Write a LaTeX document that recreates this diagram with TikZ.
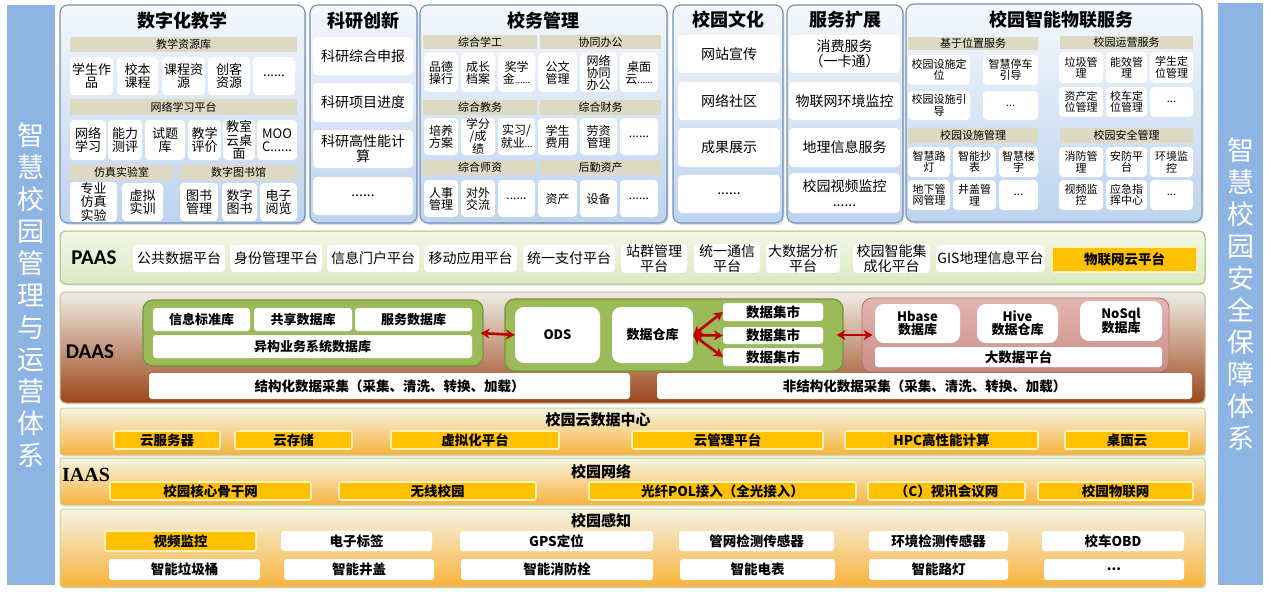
\documentclass[tikz,border=0pt]{standalone}
\usepackage{fontspec}
\setmainfont{Noto Sans CJK SC}
\newfontfamily\calfont{Carlito}
\newfontfamily\timesfont{Liberation Serif}
\usetikzlibrary{shadows,arrows.meta}
\definecolor{sideC}{HTML}{8EB4E3}
\definecolor{panT}{HTML}{F4F8FD}
\definecolor{panB}{HTML}{BDD3EE}
\definecolor{panD}{HTML}{7390B8}
\definecolor{bandC}{HTML}{DDD9C3}
\definecolor{paasT}{HTML}{F2F7E8}
\definecolor{paasB}{HTML}{DCE9C2}
\definecolor{paasD}{HTML}{A5C26A}
\definecolor{daasT}{HTML}{EFEDE5}
\definecolor{daasM}{HTML}{D9C5B4}
\definecolor{daasB}{HTML}{9C4519}
\definecolor{daasD}{HTML}{C4BD97}
\definecolor{grnC}{HTML}{9BBB59}
\definecolor{grnD}{HTML}{76923C}
\definecolor{redT}{HTML}{E4B6B1}
\definecolor{redB}{HTML}{C98C86}
\definecolor{redD}{HTML}{B9706A}
\definecolor{iaT}{HTML}{F5F4E4}
\definecolor{iaB}{HTML}{F8B23A}
\definecolor{iaD}{HTML}{C3D69B}
\definecolor{orgC}{HTML}{FFC000}
\definecolor{orgD}{HTML}{FFF1B8}
\definecolor{arrC}{HTML}{C00000}
\newcommand\bx[7]{%
  \pgfmathsetmacro\bxcx{(#2+#4)/2}%
  \pgfmathsetmacro\bxcy{(#3+#5)/2}%
  \pgfmathsetmacro\bxw{#4-#2}%
  \pgfmathsetmacro\bxh{#5-#3}%
  \node[#6, minimum width=\bxw pt, minimum height=\bxh pt] (#1) at (\bxcx,\bxcy) {#7};}
\newcommand\sdots{{\fontsize{9}{9}\selectfont......}}
\begin{document}
\begin{tikzpicture}[x=1pt,y=-1pt,
  sideS/.style={fill=sideC, inner sep=0pt, align=center, text=white, font=\fontsize{27}{32}\selectfont},
  panelS/.style={rounded corners=8pt, draw=panD, line width=1.1pt, top color=panT, bottom color=panB, inner sep=0pt,
    drop shadow={opacity=0.25, shadow xshift=1.5pt, shadow yshift=-2pt}},
  ptitle/.style={font=\bfseries\fontsize{18}{20}\selectfont, inner sep=0pt},
  bandS/.style={fill=bandC, inner sep=0pt, font=\fontsize{11}{12}\selectfont},
  wbase/.style={fill=white, rounded corners=4pt, inner sep=0.5pt, align=center, text=black},
  wb11/.style={wbase, font=\fontsize{11}{11.5}\selectfont},
  wb12/.style={wbase, font=\fontsize{12}{12}\selectfont},
  wb13/.style={wbase, font=\fontsize{13}{13.5}\selectfont},
  wb14/.style={wbase, font=\fontsize{14}{15}\selectfont},
  wbB13/.style={wbase, rounded corners=3pt, font=\bfseries\fontsize{13}{13}\selectfont},
  wbB13r/.style={wbase, rounded corners=9pt, font=\bfseries\fontsize{13}{13}\selectfont},
  wbB14/.style={wbase, rounded corners=3pt, font=\bfseries\fontsize{13.5}{14}\selectfont},
  oboxS/.style={fill=orgC, draw=orgD, line width=1.6pt, rounded corners=2pt, inner sep=0.5pt, font=\bfseries\fontsize{13.5}{14}\selectfont},
  paasS/.style={rounded corners=6pt, draw=paasD, line width=1pt, top color=paasT, bottom color=paasB,
    drop shadow={opacity=0.2, shadow xshift=1pt, shadow yshift=-1.5pt}},
  daasS/.style={rounded corners=6pt, draw=daasD, line width=1pt, top color=daasT, middle color=daasM, bottom color=daasB,
    drop shadow={opacity=0.2, shadow xshift=1pt, shadow yshift=-1.5pt}},
  greenS/.style={rounded corners=10pt, fill=grnC, draw=grnD, line width=1.2pt},
  redS/.style={rounded corners=10pt, top color=redT, bottom color=redB, draw=redD, line width=0.8pt},
  iaasS/.style={rounded corners=3pt, draw=iaD, line width=1pt, top color=iaT, bottom color=iaB,
    drop shadow={opacity=0.2, shadow xshift=1pt, shadow yshift=-1.5pt}},
  ititle/.style={font=\bfseries\fontsize{15}{16}\selectfont, inner sep=0pt},
  labS/.style={font=\calfont\bfseries\fontsize{21}{22}\selectfont, inner sep=0pt},
  rarrow/.style={{Stealth[length=9pt,width=10pt]}-{Stealth[length=9pt,width=10pt]}, line width=2.6pt, draw=arrC},
]
\useasboundingbox (0,0) rectangle (1270,592);
\fill[white] (0,0) rectangle (1270,592);

% side bars
\bx{lbar}{7}{5}{55}{585}{sideS}{智\\慧\\校\\园\\管\\理\\与\\运\\营\\体\\系}
\bx{rbar}{1218}{3}{1263}{585}{sideS}{智\\慧\\校\\园\\安\\全\\保\\障\\体\\系}

% ===== top panels =====
\bx{p1}{60}{5}{305}{223}{panelS}{}
\bx{p2}{310}{5}{417}{223}{panelS}{}
\bx{p3}{420}{5}{667}{223}{panelS}{}
\bx{p4}{673}{5}{783}{223}{panelS}{}
\bx{p5}{787}{5}{903}{223}{panelS}{}
\bx{p6}{906}{4}{1202}{222}{panelS}{}
\node[ptitle] (p1t) at (182,21) {数字化教学};
\node[ptitle] (p2t) at (363,21) {科研创新};
\node[ptitle] (p3t) at (543,21) {校务管理};
\node[ptitle] (p4t) at (728,20) {校园文化};
\node[ptitle] (p5t) at (845,20) {服务扩展};
\node[ptitle] (p6t) at (1061,20) {校园智能物联服务};

% panel 1
\bx{a1}{70}{37}{297}{52}{bandS}{教学资源库}
\bx{a2}{70}{57}{113}{95}{wb13}{学生作\\品}
\bx{a3}{117}{57}{158}{95}{wb13}{校本\\课程}
\bx{a4}{162}{57}{205}{95}{wb13}{课程资\\源}
\bx{a5}{208}{57}{250}{95}{wb13}{创客\\资源}
\bx{a6}{253}{57}{295}{95}{wb13}{......}
\bx{a7}{70}{99}{297}{115}{bandS}{网络学习平台}
\bx{a8}{70}{120}{106}{160}{wb13}{网络\\学习}
\bx{a9}{108}{120}{142}{160}{wb13}{能力\\测评}
\bx{a10}{145}{120}{185}{160}{wb13}{试题\\库}
\bx{a11}{188}{120}{221}{160}{wb13}{教学\\评价}
\bx{a12}{223}{120}{255}{160}{wb13}{教室\\云桌\\面}
\bx{a13}{257}{120}{297}{160}{wb13}{MOO\\C......}
\bx{a14}{70}{165}{173}{180}{bandS}{仿真实验室}
\bx{a15}{180}{165}{297}{180}{bandS}{数字图书馆}
\bx{a16}{70}{183}{117}{221}{wb13}{专业\\仿真\\实验}
\bx{a17}{122}{183}{163}{221}{wb13}{虚拟\\实训}
\bx{a18}{180}{183}{218}{221}{wb13}{图书\\管理}
\bx{a19}{222}{183}{257}{221}{wb13}{数字\\图书}
\bx{a20}{260}{183}{297}{221}{wb13}{电子\\阅览}

% panel 2
\bx{b1}{313}{37}{413}{75}{wb14}{科研综合申报}
\bx{b2}{313}{83}{413}{122}{wb14}{科研项目进度}
\bx{b3}{313}{130}{413}{168}{wb14}{科研高性能计\\算}
\bx{b4}{313}{177}{413}{215}{wb14}{......}

% panel 3
\bx{c1}{423}{35}{537}{49}{bandS}{综合学工}
\bx{c2}{540}{35}{661}{49}{bandS}{协同办公}
\bx{c3}{424}{53}{458}{92}{wb12}{品德\\操行}
\bx{c4}{461}{53}{495}{92}{wb12}{成长\\档案}
\bx{c5}{498}{53}{535}{92}{wb12}{奖学\\金\sdots}
\bx{c6}{538}{53}{577}{92}{wb12}{公文\\管理}
\bx{c7}{580}{53}{617}{92}{wb12}{网络\\协同\\办公}
\bx{c8}{620}{53}{658}{92}{wb12}{桌面\\云\sdots}
\bx{c9}{423}{100}{537}{115}{bandS}{综合教务}
\bx{c10}{540}{100}{661}{115}{bandS}{综合财务}
\bx{c11}{424}{118}{458}{155}{wb12}{培养\\方案}
\bx{c12}{461}{118}{495}{155}{wb12}{学分\\/成\\绩}
\bx{c13}{498}{118}{535}{155}{wb12}{实习/\\就业{\fontsize{9}{9}\selectfont...}}
\bx{c14}{538}{118}{577}{155}{wb12}{学生\\费用}
\bx{c15}{580}{118}{617}{155}{wb12}{劳资\\管理}
\bx{c16}{620}{118}{658}{155}{wb12}{......}
\bx{c17}{423}{160}{537}{175}{bandS}{综合师资}
\bx{c18}{540}{160}{661}{175}{bandS}{后勤资产}
\bx{c19}{424}{180}{458}{217}{wb12}{人事\\管理}
\bx{c20}{461}{180}{495}{217}{wb12}{对外\\交流}
\bx{c21}{498}{180}{535}{217}{wb12}{......}
\bx{c22}{538}{180}{577}{217}{wb12}{资产}
\bx{c23}{580}{180}{617}{217}{wb12}{设备}
\bx{c24}{620}{180}{658}{217}{wb12}{......}

% panel 4
\bx{d1}{678}{35}{780}{73}{wb14}{网站宣传}
\bx{d2}{678}{82}{780}{120}{wb14}{网络社区}
\bx{d3}{678}{128}{780}{167}{wb14}{成果展示}
\bx{d4}{678}{175}{780}{213}{wb14}{......}

% panel 5
\bx{e1}{789}{35}{900}{73}{wb14}{消费服务\\（一卡通）}
\bx{e2}{789}{82}{900}{120}{wb14}{物联网环境监控}
\bx{e3}{789}{128}{900}{167}{wb14}{地理信息服务}
\bx{e4}{789}{173}{900}{213}{wb14}{校园视频监控\\......}

% panel 6
\bx{f1}{908}{37}{1038}{50}{bandS}{基于位置服务}
\bx{f2}{1060}{36}{1193}{49}{bandS}{校园运营服务}
\bx{f3}{908}{55}{970}{85}{wb11}{校园设施定\\位}
\bx{f4}{983}{55}{1038}{85}{wb11}{智慧停车\\引导}
\bx{f5}{908}{91}{970}{120}{wb11}{校园设施引\\导}
\bx{f6}{983}{91}{1038}{120}{wb11}{...}
\bx{f7}{1059}{52}{1103}{83}{wb11}{垃圾管\\理}
\bx{f8}{1106}{52}{1147}{83}{wb11}{能效管\\理}
\bx{f9}{1150}{52}{1193}{83}{wb11}{学生定\\位管理}
\bx{f10}{1059}{87}{1103}{117}{wb11}{资产定\\位管理}
\bx{f11}{1106}{87}{1147}{117}{wb11}{校车定\\位管理}
\bx{f12}{1150}{87}{1193}{117}{wb11}{...}
\bx{f13}{908}{128}{1038}{143}{bandS}{校园设施管理}
\bx{f14}{1060}{128}{1193}{143}{bandS}{校园安全管理}
\bx{f15}{908}{147}{950}{177}{wb11}{智慧路\\灯}
\bx{f16}{953}{147}{996}{177}{wb11}{智能抄\\表}
\bx{f17}{999}{147}{1038}{177}{wb11}{智慧楼\\宇}
\bx{f18}{908}{180}{950}{210}{wb11}{地下管\\网管理}
\bx{f19}{953}{180}{996}{210}{wb11}{井盖管\\理}
\bx{f20}{999}{180}{1038}{210}{wb11}{...}
\bx{f21}{1059}{147}{1103}{177}{wb11}{消防管\\理}
\bx{f22}{1106}{147}{1147}{177}{wb11}{安防平\\台}
\bx{f23}{1150}{147}{1193}{177}{wb11}{环境监\\控}
\bx{f24}{1059}{180}{1103}{210}{wb11}{视频监\\控}
\bx{f25}{1106}{180}{1147}{210}{wb11}{应急指\\挥中心}
\bx{f26}{1150}{180}{1193}{210}{wb11}{...}

% ===== PAAS =====
\bx{paas}{60}{231}{1205}{284}{paasS}{}
\node[labS] (paasl) at (94,258) {PAAS};
\bx{g1a}{133}{245}{225}{272}{wb14}{公共数据平台}
\bx{g1b}{230}{245}{322}{272}{wb14}{身份管理平台}
\bx{g1c}{327}{245}{419}{272}{wb14}{信息门户平台}
\bx{g1d}{424}{245}{517}{272}{wb14}{移动应用平台}
\bx{g1e}{523}{245}{615}{272}{wb14}{统一支付平台}
\bx{g1f}{621}{245}{687}{272}{wb14}{站群管理\\平台}
\bx{g1g}{694}{245}{760}{272}{wb14}{统一通信\\平台}
\bx{g1h}{766}{245}{840}{272}{wb14}{大数据分析\\平台}
\bx{g1i}{853}{245}{930}{272}{wb14}{校园智能集\\成化平台}
\bx{g1j}{936}{245}{1045}{272}{wb14}{GIS地理信息平台}
\bx{g1k}{1052}{247}{1197}{272}{oboxS}{物联网云平台}

% ===== DAAS =====
\bx{daas}{60}{292}{1205}{403}{daasS}{}
\node[labS] (daasl) at (90,352) {DAAS};
\bx{grp1}{143}{300}{483}{366}{greenS}{}
\bx{h1}{153}{308}{250}{331}{wbB13}{信息标准库}
\bx{h2}{254}{308}{352}{331}{wbB13}{共享数据库}
\bx{h3}{355}{308}{472}{331}{wbB13}{服务数据库}
\bx{h4}{153}{335}{472}{358}{wbB13}{异构业务系统数据库}
\bx{grp2}{505}{299}{843}{371}{greenS}{}
\bx{ods}{515}{307}{600}{363}{wbB13r}{ODS}
\bx{dw}{612}{307}{693}{363}{wbB13r}{数据仓库}
\bx{m1}{723}{303}{823}{321}{wbB14}{数据集市}
\bx{m2}{723}{327}{823}{344}{wbB14}{数据集市}
\bx{m3}{723}{348}{823}{366}{wbB14}{数据集市}
\bx{grp3}{862}{298}{1169}{372}{redS}{}
\bx{hb}{875}{304}{960}{343}{wbB13r}{Hbase\\数据库}
\bx{hv}{977}{304}{1058}{343}{wbB13r}{Hive\\数据仓库}
\bx{ns}{1080}{301}{1162}{341}{wbB13r}{NoSql\\数据库}
\bx{bdp}{875}{347}{1162}{367}{wbB14}{大数据平台}
\bx{sc}{149}{373}{630}{399}{wbB14}{结构化数据采集（采集、清洗、转换、加载）}
\bx{usc}{657}{373}{1192}{399}{wbB14}{非结构化数据采集（采集、清洗、转换、加载）}
\draw[rarrow] ([xshift=-3pt]grp1.east) -- (ods.west);
\draw[rarrow] ([xshift=-7pt]grp2.east) -- ([xshift=11pt]grp3.west);
\draw[rarrow] (dw.east) -- (m1.west);
\draw[rarrow] (dw.east) -- (m2.west);
\draw[rarrow] (dw.east) -- (m3.west);

% ===== IAAS =====
\bx{ia1}{60}{408}{1205}{455}{iaasS}{}
\node[ititle] (ia1t) at (598,420) {校园云数据中心};
\bx{k1}{114}{431}{220}{449}{oboxS}{云服务器}
\bx{k2}{235}{431}{352}{449}{oboxS}{云存储}
\bx{k3}{391}{431}{559}{449}{oboxS}{虚拟化平台}
\bx{k4}{632}{431}{823}{449}{oboxS}{云管理平台}
\bx{k5}{845}{431}{1038}{449}{oboxS}{HPC高性能计算}
\bx{k6}{1065}{431}{1189}{449}{oboxS}{桌面云}

\bx{ia2}{60}{458}{1205}{505}{iaasS}{}
\node[font=\timesfont\bfseries\fontsize{20}{22}\selectfont, inner sep=0pt] (iasl) at (86,475) {IAAS};
\node[ititle] (ia2t) at (601,472) {校园网络};
\bx{n1}{110}{482}{311}{500}{oboxS}{校园核心骨干网}
\bx{n2}{339}{482}{536}{500}{oboxS}{无线校园}
\bx{n3}{589}{482}{856}{500}{oboxS}{光纤POL接入（全光接入）}
\bx{n4}{868}{482}{1025}{500}{oboxS}{（C）视讯会议网}
\bx{n5}{1038}{482}{1193}{500}{oboxS}{校园物联网}

\bx{ia3}{60}{509}{1205}{587}{iaasS}{}
\node[ititle] (ia3t) at (601,521) {校园感知};
\bx{s1}{105}{531}{256}{551}{oboxS}{视频监控}
\bx{s2}{281}{531}{432}{551}{wbB14}{电子标签}
\bx{s3}{460}{531}{653}{551}{wbB14}{GPS定位}
\bx{s4}{679}{531}{834}{551}{wbB14}{管网检测传感器}
\bx{s5}{869}{531}{1008}{551}{wbB14}{环境检测传感器}
\bx{s6}{1042}{531}{1184}{551}{wbB14}{校车OBD}
\bx{s7}{109}{559}{260}{580}{wbB14}{智能垃圾桶}
\bx{s8}{284}{559}{434}{580}{wbB14}{智能井盖}
\bx{s9}{461}{559}{653}{580}{wbB14}{智能消防栓}
\bx{s10}{680}{559}{835}{580}{wbB14}{智能电表}
\bx{s11}{869}{559}{1008}{580}{wbB14}{智能路灯}
\bx{s12}{1044}{559}{1184}{580}{wbB14}{...}
\end{tikzpicture}
\end{document}
